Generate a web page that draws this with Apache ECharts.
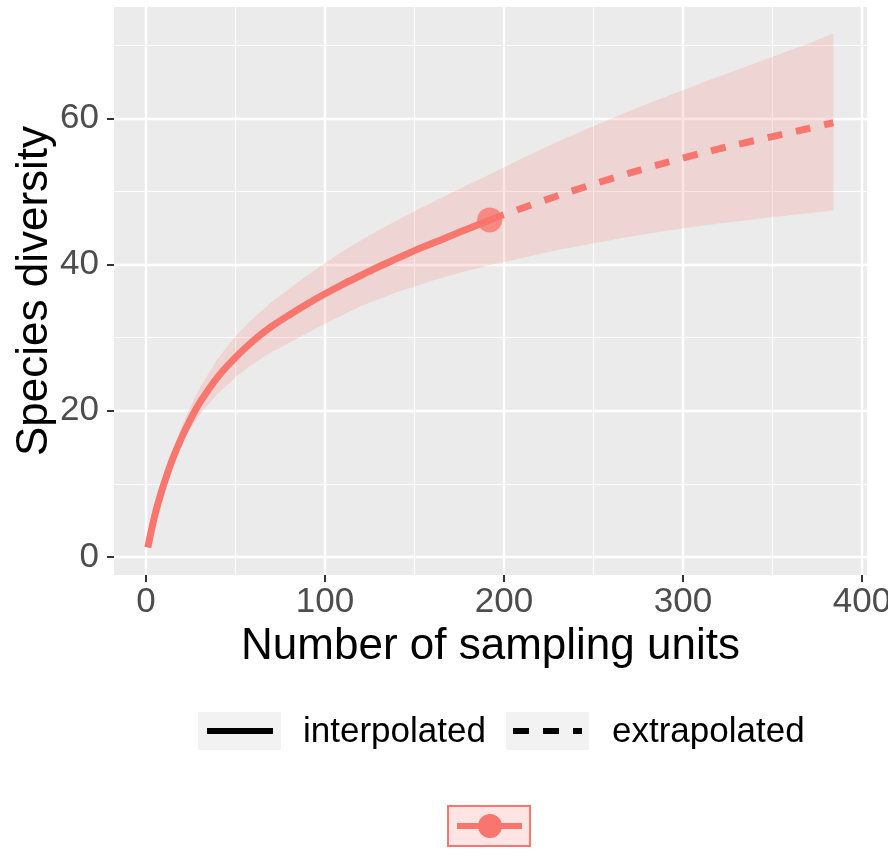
<!DOCTYPE html>
<html>
<head>
<meta charset="utf-8">
<script src="https://cdn.jsdelivr.net/npm/echarts@6/dist/echarts.min.js"></script>
<style>
  html, body { margin: 0; padding: 0; background: #ffffff; }
  #chart { width: 888px; height: 851px; }
</style>
</head>
<body>
<div id="chart"></div>
<script>
// ---- data ----
const X_INTERP = [1, 5, 10, 15, 20, 25, 30, 40, 50, 60, 70, 80, 90, 100, 110, 120, 130, 140, 150, 160, 170, 180, 192];
const Y_INTERP = [1.3, 5.8, 10.0, 13.5, 16.4, 18.9, 21.1, 24.6, 27.3, 29.6, 31.5, 33.1, 34.6, 36.0, 37.3, 38.5, 39.7, 40.8, 41.9, 42.9, 43.9, 44.9, 46.1];
const UCL_INTERP = [1.3, 6.3, 10.9, 14.5, 17.8, 20.7, 23.1, 27.1, 30.2, 32.7, 34.8, 36.7, 38.5, 40.2, 41.8, 43.3, 44.7, 46.0, 47.3, 48.5, 49.7, 50.9, 52.3];
const LCL_INTERP = [1.3, 5.7, 9.7, 12.7, 15.4, 17.7, 19.5, 22.3, 24.6, 26.5, 28.0, 29.3, 30.6, 31.9, 33.1, 34.3, 35.3, 36.2, 37.0, 37.8, 38.5, 39.2, 39.9];

const X_EXTRAP = [192, 210, 230, 250, 270, 290, 310, 330, 350, 370, 384];
const Y_EXTRAP = [46.1, 47.7, 49.4, 51.0, 52.5, 53.9, 55.2, 56.4, 57.5, 58.6, 59.4];
const UCL_EXTRAP = [52.3, 54.5, 56.8, 58.9, 61.0, 62.9, 64.8, 66.6, 68.4, 70.2, 71.6];
const LCL_EXTRAP = [39.9, 40.9, 42.0, 42.9, 43.8, 44.6, 45.3, 45.9, 46.5, 47.0, 47.4];

const OBS_X = 192;
const OBS_Y = 46.1;

const X_TICKS = [0, 100, 200, 300, 400];
const X_MINOR = [50, 150, 250, 350];
const Y_TICKS = [0, 20, 40, 60];
const Y_MINOR = [10, 30, 50, 70];
const X_RANGE = [-17.9, 402.8];
const Y_RANGE = [-2.46, 75.22];

const LEGEND_LABELS = ['interpolated', 'extrapolated'];
const X_TITLE = 'Number of sampling units';
const Y_TITLE = 'Species diversity';

// ---- build ----
const COL = '#F8766D';
const FONT = '"Liberation Sans", Arial, Helvetica, sans-serif';

const zip = (xs, ys) => xs.map((x, i) => [x, ys[i]]);
const bandX = X_INTERP.concat(X_EXTRAP.slice(1));
const bandU = UCL_INTERP.concat(UCL_EXTRAP.slice(1));
const bandL = LCL_INTERP.concat(LCL_EXTRAP.slice(1));

const chart = echarts.init(document.getElementById('chart'), null, { renderer: 'canvas' });

const majorAxisX = {
  type: 'value', min: X_RANGE[0], max: X_RANGE[1], position: 'bottom',
  axisLine: { show: false, onZero: false },
  axisTick: { show: true, customValues: X_TICKS, length: 7, lineStyle: { color: '#333333', width: 2 } },
  axisLabel: { customValues: X_TICKS, color: '#4D4D4D', fontSize: 35, fontFamily: FONT, margin: 10 },
  splitLine: { show: true, lineStyle: { color: '#ffffff', width: 2.4 } },
  name: X_TITLE, nameLocation: 'middle', nameGap: 43,
  nameTextStyle: { color: '#000000', fontSize: 44, fontFamily: FONT }
};
const minorAxisX = {
  type: 'value', min: X_RANGE[0], max: X_RANGE[1], position: 'bottom',
  axisLine: { show: false, onZero: false },
  axisTick: { show: false, customValues: X_MINOR },
  axisLabel: { show: false, customValues: X_MINOR },
  splitLine: { show: true, lineStyle: { color: '#ffffff', width: 1.1 } }
};
const majorAxisY = {
  type: 'value', min: Y_RANGE[0], max: Y_RANGE[1], position: 'left',
  axisLine: { show: false, onZero: false },
  axisTick: { show: true, customValues: Y_TICKS, length: 7, lineStyle: { color: '#333333', width: 2 } },
  axisLabel: { customValues: Y_TICKS, color: '#4D4D4D', fontSize: 35, fontFamily: FONT, margin: 15 },
  splitLine: { show: true, lineStyle: { color: '#ffffff', width: 2.4 } },
  name: Y_TITLE, nameLocation: 'middle', nameGap: 57, nameMoveOverlap: false,
  nameTextStyle: { color: '#000000', fontSize: 44, fontFamily: FONT }
};
const minorAxisY = {
  type: 'value', min: Y_RANGE[0], max: Y_RANGE[1], position: 'left',
  axisLine: { show: false, onZero: false },
  axisTick: { show: false, customValues: Y_MINOR },
  axisLabel: { show: false, customValues: Y_MINOR },
  splitLine: { show: true, lineStyle: { color: '#ffffff', width: 1.1 } }
};

const option = {
  animation: false,
  backgroundColor: '#ffffff',
  grid: {
    left: 114, right: 21, top: 7, bottom: 276,
    outerBoundsMode: 'none', containLabel: false,
    show: true, backgroundColor: '#EBEBEB', borderWidth: 0
  },
  xAxis: [minorAxisX, majorAxisX],
  yAxis: [minorAxisY, majorAxisY],
  series: [
    {
      type: 'custom', name: 'band', xAxisIndex: 1, yAxisIndex: 1,
      data: [[bandX[0], bandU[0]]],
      silent: true, z: 1,
      renderItem: function (params, api) {
        const pts = [];
        for (let i = 0; i < bandX.length; i++) pts.push(api.coord([bandX[i], bandU[i]]));
        for (let i = bandX.length - 1; i >= 0; i--) pts.push(api.coord([bandX[i], bandL[i]]));
        return { type: 'polygon', shape: { points: pts, smooth: 0 }, style: { fill: 'rgba(248,118,109,0.2)' } };
      }
    },
    {
      type: 'line', name: LEGEND_LABELS[0], xAxisIndex: 1, yAxisIndex: 1,
      data: zip(X_INTERP, Y_INTERP), showSymbol: false, symbol: 'none',
      smooth: 0.3, z: 3,
      lineStyle: { color: COL, width: 7, cap: 'butt', join: 'round' }
    },
    {
      type: 'line', name: LEGEND_LABELS[1], xAxisIndex: 1, yAxisIndex: 1,
      data: zip(X_EXTRAP, Y_EXTRAP), showSymbol: false, symbol: 'none',
      smooth: 0.3, z: 3,
      lineStyle: { color: COL, width: 7, type: [15, 14], cap: 'butt' }
    },
    {
      type: 'scatter', name: 'observed', xAxisIndex: 1, yAxisIndex: 1,
      data: [[OBS_X, OBS_Y]], symbol: 'circle', symbolSize: 25, z: 4,
      itemStyle: { color: COL }
    }
  ],
  graphic: [
    // legend row 1
    { type: 'rect', shape: { x: 198, y: 712, width: 83, height: 38 }, style: { fill: '#F2F2F2' } },
    { type: 'line', shape: { x1: 207, y1: 731, x2: 273, y2: 731 }, style: { stroke: '#000000', lineWidth: 6 } },
    { type: 'text', x: 303, y: 732, style: { text: LEGEND_LABELS[0], fill: '#000000', fontSize: 35, fontFamily: FONT, verticalAlign: 'middle' } },
    { type: 'rect', shape: { x: 506, y: 712, width: 83, height: 38 }, style: { fill: '#F2F2F2' } },
    { type: 'line', shape: { x1: 513, y1: 731, x2: 582, y2: 731 }, style: { stroke: '#000000', lineWidth: 6, lineDash: [16, 14] } },
    { type: 'text', x: 612, y: 732, style: { text: LEGEND_LABELS[1], fill: '#000000', fontSize: 35, fontFamily: FONT, verticalAlign: 'middle' } },
    // legend row 2
    { type: 'rect', shape: { x: 448, y: 806, width: 82, height: 40 }, style: { fill: 'rgba(248,118,109,0.2)', stroke: COL, lineWidth: 2 } },
    { type: 'line', shape: { x1: 457, y1: 826, x2: 522, y2: 826 }, style: { stroke: COL, lineWidth: 6 } },
    { type: 'circle', shape: { cx: 490, cy: 826, r: 12 }, style: { fill: COL } }
  ]
};

chart.setOption(option);
</script>
</body>
</html>
